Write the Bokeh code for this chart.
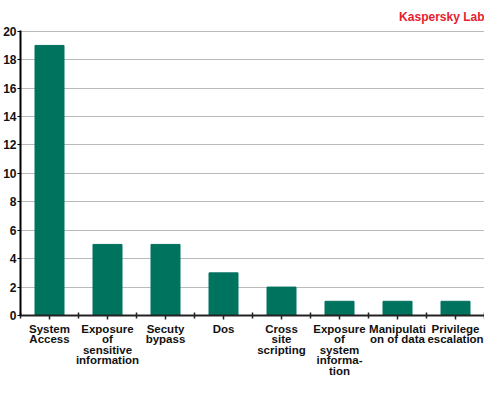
from bokeh.plotting import figure
from bokeh.models import Range1d, FixedTicker, ColumnDataSource
from bokeh.embed import file_html
from bokeh.resources import INLINE

categories = ["System Access", "Exposure of sensitive information", "Secuty bypass", "Dos",
              "Cross site scripting", "Exposure of system information", "Manipulation of data",
              "Privilege escalation"]
tick_labels = ["System\nAccess", "Exposure\nof\nsensitive\ninformation", "Secuty\nbypass", "Dos",
               "Cross\nsite\nscripting", "Exposure\nof\nsystem\ninforma-\ntion", "Manipulati\non of data",
               "Privilege\nescalation"]
values = [19, 5, 5, 3, 2, 1, 1, 1]
y_ticks = [0, 2, 4, 6, 8, 10, 12, 14, 16, 18, 20]

xs = [i + 0.5 for i in range(len(categories))]
src = ColumnDataSource(dict(x=xs, top=values, name=categories))

p = figure(width=484, height=379, output_backend="svg", toolbar_location=None,
           x_range=Range1d(0, len(categories)), y_range=Range1d(0, 20.05),
           min_border_left=0, min_border_right=0, min_border_top=0, min_border_bottom=0)
p.title.text = "Kaspersky Lab"
p.title.align = "right"
p.title.text_color = "#E8202E"
p.title.text_font = "Liberation Sans"
p.title.text_font_size = "12px"
p.title.text_font_style = "bold"
p.title.offset = 0
p.title.standoff = 14

p.vbar(x="x", top="top", width=0.5, bottom=0, source=src, color="#00735F")

p.outline_line_color = None
p.xgrid.grid_line_color = None
p.ygrid.grid_line_color = "#BBBBBB"
p.ygrid.grid_line_width = 1

xa = p.xaxis[0]
xa.ticker = FixedTicker(ticks=xs, minor_ticks=list(range(len(categories) + 1)))
xa.major_label_overrides = {x: t for x, t in zip(xs, tick_labels)}
xa.axis_line_color = "#222222"
xa.axis_line_width = 2
xa.major_tick_in = 0
xa.major_tick_out = 4
xa.major_tick_line_color = "#222222"
xa.major_tick_line_width = 1.5
xa.minor_tick_in = 3
xa.minor_tick_out = 3
xa.minor_tick_line_color = "#222222"
xa.minor_tick_line_width = 1.5
xa.major_label_text_font = "Liberation Sans"
xa.major_label_text_font_style = "bold"
xa.major_label_text_font_size = "11.5px"
xa.major_label_text_line_height = 0.88
xa.major_label_text_color = "#111111"
xa.major_label_standoff = 3

ya = p.yaxis[0]
ya.ticker = FixedTicker(ticks=y_ticks)
ya.axis_line_color = "#000000"
ya.axis_line_width = 2
ya.major_tick_in = 0
ya.major_tick_out = 3
ya.major_tick_line_color = "#000000"
ya.minor_tick_line_color = None
ya.major_label_text_font = "Liberation Sans"
ya.major_label_text_font_style = "bold"
ya.major_label_text_font_size = "12px"
ya.major_label_text_color = "#111111"
ya.major_label_standoff = 1

open("out.html", "w").write(file_html(p, INLINE))
